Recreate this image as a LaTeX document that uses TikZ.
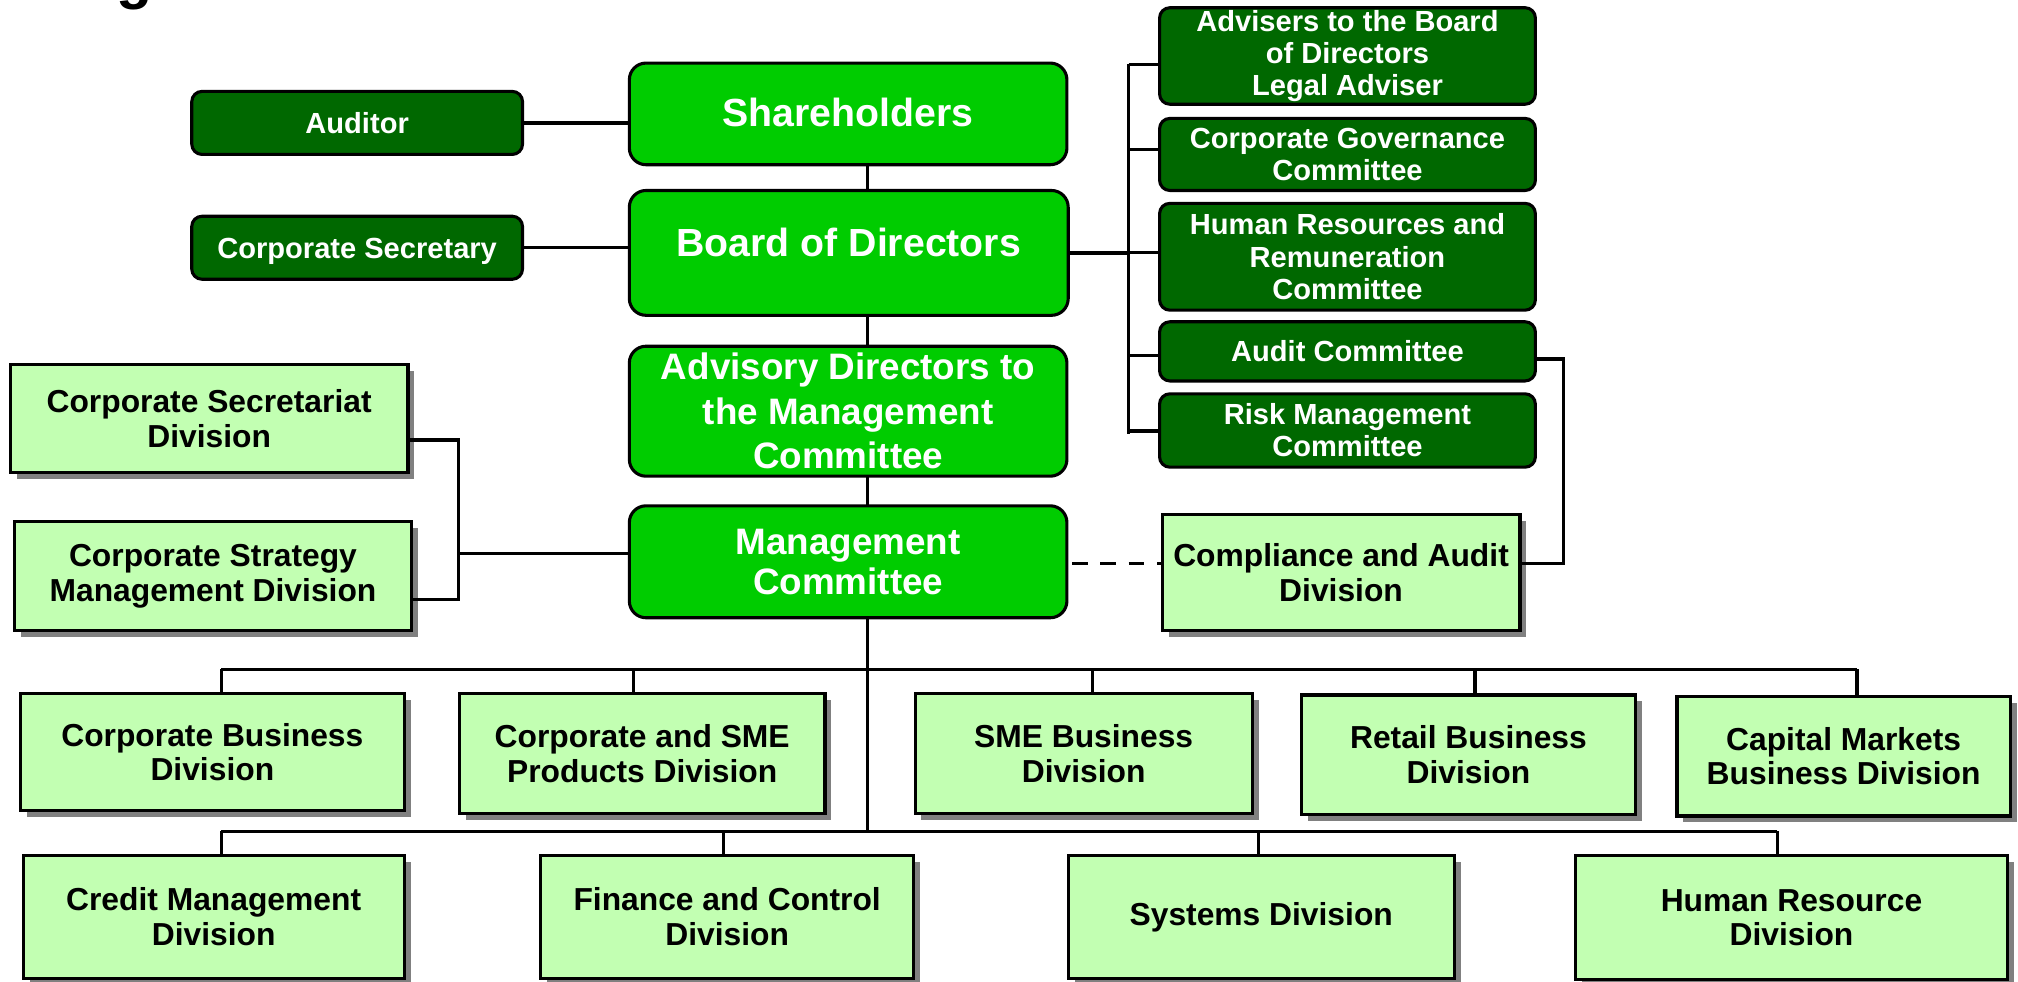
\documentclass[tikz,border=0pt]{standalone}
\usepackage{fontspec}
\setmainfont{Liberation Sans}
\usetikzlibrary{shadows,calc}
\definecolor{dkgreen}{RGB}{0,104,0}
\definecolor{brgreen}{RGB}{0,204,0}
\definecolor{ltgreen}{RGB}{194,255,178}
\definecolor{shadowgray}{RGB}{128,128,128}
\begin{document}
\begin{tikzpicture}[x=1pt,y=-1pt,
  sz/.style 2 args={minimum width=#1pt,minimum height=#2pt},
  base/.style={draw=black,line width=2.4pt,inner sep=0pt,outer sep=0pt,align=center},
  darkbox/.style={base,rounded corners=8pt,fill=dkgreen,text=white,font=\bfseries\fontsize{22.6}{25}\selectfont},
  topbox/.style={base,rounded corners=13pt,fill=brgreen,text=white,font=\bfseries\fontsize{28.6}{34.5}\selectfont},
  divbox/.style={base,fill=ltgreen,text=black,font=\bfseries\fontsize{24.7}{27}\selectfont,
    drop shadow={shadow xshift=5pt,shadow yshift=-5pt,fill=shadowgray,opacity=1}},
  conn/.style={line width=2.6pt}]
\useasboundingbox (0,0) rectangle (1568,763);

% cropped title fragment
\node[anchor=base west,inner sep=0pt,font=\bfseries\fontsize{46}{46}\selectfont] (ttl) at (90,-2) {g};

% central column
\node[topbox,sz={340}{79}] (sh) at (659,88.5) {\fontsize{30.5}{34}\selectfont\raisebox{-9.4pt}[0pt][0pt]{Shareholders}};
\node[topbox,sz={341}{97}] (bod) at (659.5,196.5) {\fontsize{30.5}{34}\selectfont\raisebox{-3pt}[0pt][0pt]{Board of Directors}};
\node[topbox,sz={340}{101}] (adm) at (659,319.5) {Advisory Directors to\\the Management\\Committee};
\node[topbox,sz={340}{87},font=\bfseries\fontsize{28.6}{31}\selectfont] (mc) at (659,436.5) {Management\\Committee};

% left dark boxes
\node[darkbox,sz={257}{49}] (aud) at (277.5,95.5) {Auditor};
\node[darkbox,sz={257}{49}] (csec) at (277.5,192.5) {\raisebox{-8.6pt}[0pt][0pt]{Corporate Secretary}};

% right dark boxes
\node[darkbox,sz={292}{75}] (adv) at (1047,43.5) {Advisers to the Board\\of Directors\\Legal Adviser};
\node[darkbox,sz={292}{56}] (cgc) at (1047,120) {Corporate Governance\\Committee};
\node[darkbox,sz={292}{83}] (hrr) at (1047,199.5) {Human Resources and\\Remuneration\\Committee};
\node[darkbox,sz={292}{46}] (audc) at (1047,273) {Audit Committee};
\node[darkbox,sz={292}{57}] (risk) at (1047,334.5) {Risk Management\\Committee};

% division boxes
\node[divbox,sz={309}{84}] (csd) at (162.5,325) {Corporate Secretariat\\Division};
\node[divbox,sz={309}{85}] (csm) at (165.5,447.5) {Corporate Strategy\\Management Division};
\node[divbox,sz={278}{90}] (comp) at (1042,445) {Compliance and Audit\\Division};

\node[divbox,sz={298}{91}] (cbd) at (165,584.5) {Corporate Business\\Division};
\node[divbox,sz={284}{93}] (csp) at (499,585.5) {Corporate and SME\\Products Division};
\node[divbox,sz={262}{93}] (sme) at (842,585.5) {SME Business\\Division};
\node[divbox,sz={260}{93}] (rbd) at (1141,586.5) {Retail Business\\Division};
\node[divbox,sz={259}{93}] (cmb) at (1432.5,587.5) {Capital Markets\\Business Division};

\node[divbox,sz={296}{95}] (cmd) at (166,712.5) {Credit Management\\Division};
\node[divbox,sz={290}{95}] (fcd) at (565,712.5) {Finance and Control\\Division};
\node[divbox,sz={300}{95}] (sys) at (980,712.5) {Systems Division};
\node[divbox,sz={336}{96}] (hrd) at (1392,713) {Human Resource\\Division};

% helper coordinates
\coordinate (sp) at (674,0);
\coordinate (brt) at (877,50);
\coordinate (brb) at (877,337);
\coordinate (ar1) at (1215,279);
\coordinate (ar2) at (1215,438);
\coordinate (lvt) at (356,342);
\coordinate (lvb) at (356,466);
\coordinate (lvm) at (356,430);
\coordinate (b1l) at (172,520);
\coordinate (b1r) at (1443,520);
\coordinate (b2l) at (172,646);
\coordinate (b2r) at (1381,646);

% connectors
\draw[conn] (aud.east) -- (aud.east -| sh.west);
\draw[conn] (csec.east) -- (csec.east -| bod.west);
\draw[conn] (sh.south -| sp) -- (bod.north -| sp);
\draw[conn] (bod.south -| sp) -- (adm.north -| sp);
\draw[conn] (adm.south -| sp) -- (mc.north -| sp);
\draw[conn] (mc.south -| sp) -- (sp |- b2l);

\draw[conn] (bod.east) -- (bod.east -| brt);
\draw[conn] (brt) -- (brb);
\draw[conn] (brt) -- (brt -| adv.west);
\draw[conn] (brt |- 0,116) -- (cgc.west |- 0,116);
\draw[conn] (brt |- 0,196) -- (hrr.west |- 0,196);
\draw[conn] (brt |- 0,276) -- (audc.west |- 0,276);
\draw[conn] (brb |- 0,335) -- (risk.west |- 0,335);

\draw[conn] (ar1 -| audc.east) -- (ar1) -- (ar2) -- (ar2 -| comp.east);
\draw[conn,dash pattern=on 12pt off 10pt] ($(mc.east |- ar2)+(4,0)$) -- (comp.west |- ar2);

\draw[conn] (lvt -| csd.east) -- (lvt) -- (lvb) -- (lvb -| csm.east);
\draw[conn] (lvm) -- (lvm -| mc.west);

\draw[conn] (b1l) -- (b1r);
\draw[conn] (b1l) -- (b1l |- cbd.north);
\draw[conn] (492,520) -- (492,520 |- csp.north);
\draw[conn] (849,520) -- (849,520 |- sme.north);
\draw[conn] (1146,520) -- (1146,520 |- rbd.north);
\draw[conn] (b1r) -- (b1r |- cmb.north);

\draw[conn] (b2l) -- (b2r);
\draw[conn] (b2l) -- (b2l |- cmd.north);
\draw[conn] (562,646) -- (562,646 |- fcd.north);
\draw[conn] (978,646) -- (978,646 |- sys.north);
\draw[conn] (b2r) -- (b2r |- hrd.north);
\end{tikzpicture}
\end{document}
